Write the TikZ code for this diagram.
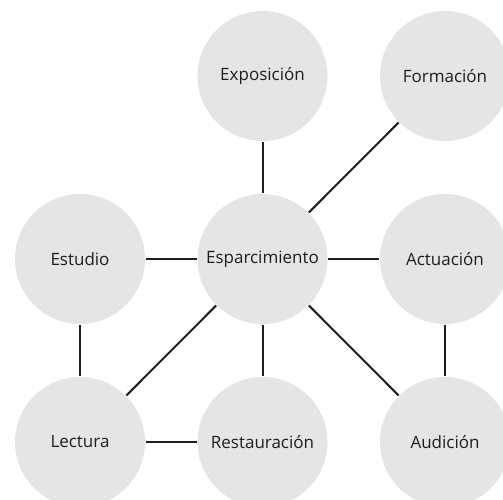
\documentclass[tikz,border=0pt]{standalone}
\usepackage{fontspec}
\setmainfont{Open Sans}
\definecolor{circfill}{HTML}{E5E5E5}
\definecolor{linecol}{HTML}{1E1E1E}
\definecolor{txtcol}{HTML}{1E1E1E}
\begin{document}
\begin{tikzpicture}[x=1pt,y=1pt,
  bubble/.style={circle,fill=circfill,draw=none,minimum size=130pt,inner sep=0pt,
    font=\fontsize{17}{20}\selectfont,text=txtcol},
  link/.style={draw=linecol,line width=2pt,shorten <=0.5pt,shorten >=0.5pt}]
\useasboundingbox (0,0) rectangle (503,499);
\begin{scope}
\clip (0,0) rectangle (503,499);
\node[bubble] (expo) at (262.5,423) {Exposición};
\node[bubble] (form) at (445,423) {Formación};
\node[bubble] (estu) at (80,240) {Estudio};
\node[bubble] (espa) at (262.5,240) {Esparcimiento};
\node[bubble] (actu) at (445,240) {Actuación};
\node[bubble] (lect) at (80,57) {Lectura};
\node[bubble] (rest) at (262.5,57) {Restauración};
\node[bubble] (audi) at (445,57) {Audición};
\draw[link] (expo) -- (espa);
\draw[link] (form) -- (espa);
\draw[link] (estu) -- (espa);
\draw[link] (espa) -- (actu);
\draw[link] (estu) -- (lect);
\draw[link] (espa) -- (lect);
\draw[link] (espa) -- (rest);
\draw[link] (espa) -- (audi);
\draw[link] (actu) -- (audi);
\draw[link] (lect) -- (rest);
\end{scope}
\end{tikzpicture}
\end{document}
